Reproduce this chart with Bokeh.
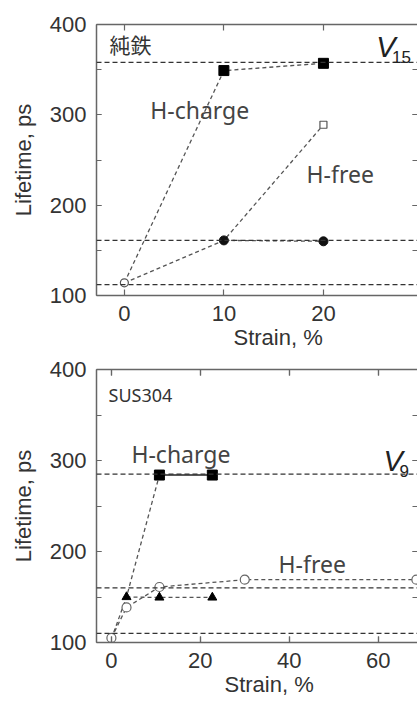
from bokeh.plotting import figure
from bokeh.layouts import column
from bokeh.models import (Span, Label, LinearAxis, SingleIntervalTicker, Range1d,
                          Title, CustomJSTickFormatter)
from bokeh.embed import file_html
from bokeh.resources import INLINE

# ---------------- data ----------------
# Pure iron (純鉄)
fe_strain = [0, 10, 20]
fe_charge = [114, 349, 357]        # H-charge
fe_free = [114, 161, 289]          # H-free
fe_short_strain = [10, 20]
fe_short = [161, 160]
fe_ref = [358, 161, 112]           # V15 and reference levels

# SUS304
sus_rise_strain = [0, 3.4, 10.8]
sus_rise = [104, 150, 284]
sus_charge_strain = [10.8, 22.7]
sus_charge = [284, 284]            # H-charge
sus_tri_strain = [3.4, 10.8, 22.7]
sus_tri = [150, 149.5, 149.5]
sus_free_strain = [0, 3.4, 10.8, 30, 68.6]
sus_free = [105, 138.5, 161, 169, 169]   # H-free
sus_ref = [285, 160, 110]          # V9 and reference levels

y_ticks_interval = 100
fe_x_interval = 10
sus_x_interval = 20

AX = "#666666"
TICK_FONT = "Liberation Sans"


def make_fig(height, top, bottom, xr, x_interval, x_minor, title_offset, title_standoff):
    p = figure(width=417, height=height, x_range=Range1d(*xr), y_range=Range1d(100, 400),
               output_backend="svg", toolbar_location=None,
               min_border_left=96, min_border_right=0,
               min_border_top=top, min_border_bottom=bottom)
    p.outline_line_color = None
    p.xgrid.visible = False
    p.ygrid.visible = False
    p.background_fill_color = "white"
    p.border_fill_color = "white"

    bottom_ax = p.below[0]
    left_ax = p.left[0]
    bottom_ax.ticker = SingleIntervalTicker(interval=x_interval, num_minor_ticks=x_minor)
    left_ax.ticker = SingleIntervalTicker(interval=y_ticks_interval, num_minor_ticks=2)

    blank = CustomJSTickFormatter(code="return ''")
    top_ax = LinearAxis(ticker=SingleIntervalTicker(interval=x_interval, num_minor_ticks=x_minor),
                        formatter=blank)
    right_ax = LinearAxis(ticker=SingleIntervalTicker(interval=y_ticks_interval, num_minor_ticks=2),
                          formatter=blank)
    p.add_layout(top_ax, "above")
    p.add_layout(right_ax, "right")

    for ax in [bottom_ax, top_ax]:
        ax.major_tick_in = 6
        ax.major_tick_out = 0
        ax.minor_tick_in = 6
        ax.minor_tick_out = 0
    for ax in [left_ax, right_ax]:
        ax.major_tick_in = 5
        ax.major_tick_out = 0
        ax.minor_tick_in = 5
        ax.minor_tick_out = 0
    for ax in [bottom_ax, top_ax, left_ax, right_ax]:
        ax.axis_line_color = AX
        ax.axis_line_width = 1.5
        ax.major_tick_line_color = AX
        ax.minor_tick_line_color = AX
        ax.major_tick_line_width = 1.2
        ax.minor_tick_line_width = 1.2
        ax.major_label_text_font = TICK_FONT
        ax.major_label_text_font_size = "22px"
        ax.major_label_text_color = "#333333"
    for ax in [top_ax, right_ax]:
        ax.major_label_standoff = 0
    right_ax.axis_line_color = None

    bottom_ax.major_label_standoff = 10
    left_ax.major_label_standoff = 10
    left_ax.axis_label = "Lifetime, ps"
    left_ax.axis_label_text_font = TICK_FONT
    left_ax.axis_label_text_font_size = "22px"
    left_ax.axis_label_text_font_style = "normal"
    left_ax.axis_label_text_color = "#333333"
    left_ax.axis_label_standoff = 11

    t = Title(text="Strain, %", align="left", offset=title_offset, standoff=title_standoff,
              text_font=TICK_FONT, text_font_size="22px", text_font_style="normal",
              text_color="#333333", vertical_align="middle")
    p.add_layout(t, "below")
    return p


def refs(p, levels):
    for v in levels:
        p.add_layout(Span(location=v, dimension="width", line_dash="5 3",
                          line_color="#333333", line_width=1.2))


def lab(p, x, y, text, font="Noto Sans", size="23px", color="#444444",
        style="normal", baseline="alphabetic", align="left"):
    p.add_layout(Label(x=x, y=y, text=text, text_font=font, text_font_size=size,
                       text_color=color, text_font_style=style,
                       text_baseline=baseline, text_align=align))


DASH = dict(line_dash="4 3", line_color="#555555", line_width=1.3)

# ---------------- top: pure iron ----------------
p1 = make_fig(355, 24, 60, (-2.8, 29.45), fe_x_interval, 0, 137, 0)
refs(p1, fe_ref)
p1.line(fe_strain, fe_charge, **DASH)
p1.line(fe_strain, fe_free, **DASH)
p1.line(fe_short_strain, fe_short, **DASH)
p1.scatter(fe_short_strain, fe_short, marker="circle", size=9, color="#111111")
p1.scatter(fe_strain[1:], fe_charge[1:], marker="square", size=10, color="black")
p1.scatter(fe_strain[2:], fe_free[2:], marker="square", size=7,
           fill_color="white", line_color="#555555", line_width=1.2)
p1.scatter(fe_strain[:1], fe_free[:1], marker="circle", size=8,
           fill_color="white", line_color="#555555", line_width=1.2)

lab(p1, -1.5, 378.0, "純鉄", font="Noto Sans CJK JP", size="21px", color="#333333", baseline="middle")
lab(p1, 25.3, 374.6, "V", font="Liberation Sans", size="29px", color="#222222", style="italic")
lab(p1, 26.9, 364.2, "15", font="Liberation Sans", size="17px", color="#222222")
lab(p1, 2.6, 304.8, "H-charge")
lab(p1, 18.3, 235.0, "H-free")

# ---------------- bottom: SUS304 ----------------
p2 = make_fig(347, 14, 60, (-3.35, 68.85), sus_x_interval, 1, 128, 0)
refs(p2, sus_ref)
p2.line(sus_free_strain, sus_free, **DASH)
p2.line(sus_tri_strain, sus_tri, **DASH)
p2.line(sus_rise_strain, sus_rise, **DASH)
p2.line(sus_charge_strain, sus_charge, line_color="#222222", line_width=1.5)
p2.scatter(sus_charge_strain, sus_charge, marker="square", size=10, color="black")
p2.scatter(sus_tri_strain, sus_tri, marker="triangle", size=9, color="black")
p2.scatter(sus_free_strain, sus_free, marker="circle", size=9,
           fill_color="white", line_color="#666666", line_width=1.2)

lab(p2, -0.65, 372.2, "SUS304", size="18px", color="#333333")
lab(p2, 4.5, 306.7, "H-charge")
lab(p2, 61.2, 299.0, "V", font="Liberation Sans", size="29px", color="#222222", style="italic")
lab(p2, 64.8, 288.7, "9", font="Liberation Sans", size="17px", color="#222222")
lab(p2, 37.6, 186.7, "H-free")

layout = column(p1, p2)
open("out.html", "w").write(file_html(layout, INLINE))
